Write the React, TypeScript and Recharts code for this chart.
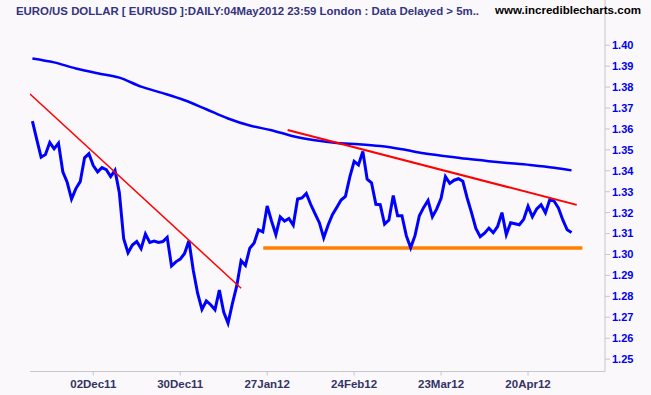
import { LineChart, Line, XAxis, YAxis } from 'recharts';

// daily closes, EUR/USD, 14 Nov 2011 .. 04 May 2012 (index = trading day)
const closes = [
  1.3637, 1.355, 1.3465, 1.3478, 1.3535, 1.3505, 1.3532, 1.3395, 1.3345, 1.3265,
  1.3315, 1.3348, 1.3462, 1.3482, 1.3425, 1.3395, 1.3415, 1.3405, 1.3372, 1.3402,
  1.3295, 1.3075, 1.3008, 1.3045, 1.3062, 1.3028, 1.3098, 1.3058, 1.3064, 1.3058,
  1.3062, 1.3082, 1.2945, 1.2965, 1.2978, 1.3005, 1.3066, 1.2925, 1.2815, 1.2738,
  1.2778, 1.276, 1.2736, 1.283, 1.2725, 1.2672, 1.2765, 1.285, 1.297, 1.2948,
  1.303, 1.3055, 1.3118, 1.3108, 1.3232, 1.316, 1.3095, 1.318, 1.316, 1.3172,
  1.314, 1.3265, 1.327, 1.3292, 1.324, 1.3195, 1.3152, 1.308, 1.314, 1.319,
  1.3225, 1.326, 1.3278, 1.337, 1.3445, 1.3428, 1.3492, 1.336, 1.3343, 1.324,
  1.3238, 1.3145, 1.3165, 1.3282, 1.3185, 1.3185, 1.309, 1.3032, 1.309, 1.3185,
  1.3225, 1.3258, 1.318, 1.3218, 1.3268, 1.3372, 1.334, 1.3355, 1.3362, 1.335,
  1.327, 1.32, 1.3125, 1.3085, 1.3102, 1.3126, 1.3104, 1.3134, 1.32, 1.3095,
  1.3152, 1.3147, 1.3142, 1.3168, 1.323, 1.318, 1.3218, 1.3238, 1.32, 1.3262,
  1.3255, 1.3222, 1.3165, 1.3118, 1.3105
];

// long moving average, read at every 5th day
const maDays = [0, 5, 10, 15, 20, 25, 30, 35, 40, 45, 50, 55, 60, 65, 70, 75, 80, 85, 90, 95, 100, 105, 110, 115, 120, 124];
const maValues = [
  1.3937, 1.3918, 1.3889, 1.3866, 1.3845, 1.3802, 1.3771, 1.3737, 1.3694, 1.365,
  1.3616, 1.3594, 1.3565, 1.3546, 1.3533, 1.3527, 1.3518, 1.3503, 1.3484, 1.347,
  1.3457, 1.3446, 1.3436, 1.3427, 1.3415, 1.3402
];

// hand drawn trend lines
const downTrendDays = [-0.55, 48];
const downTrendValues = [1.3767, 1.2839];
const upperTrendDays = [58.7, 125.2];
const upperTrendValues = [1.3595, 1.3237];
const supportDays = [53.1, 126.5];
const supportValues = [1.3031, 1.3031];

const tickDays = [14, 34, 54, 74, 94, 114];
const tickLabels = ['02Dec11', '30Dec11', '27Jan12', '24Feb12', '23Mar12', '20Apr12'];
const priceTicks = [1.25, 1.26, 1.27, 1.28, 1.29, 1.3, 1.31, 1.32, 1.33, 1.34, 1.35, 1.36, 1.37, 1.38, 1.39, 1.4];

const pairUp = (days: number[], values: number[]) => days.map((day, i) => ({ day, v: values[i] }));

const priceData = closes.map((v, day) => ({ day, v }));
const maData = pairUp(maDays, maValues);
const downTrend = pairUp(downTrendDays, downTrendValues);
const upperTrend = pairUp(upperTrendDays, upperTrendValues);
const support = pairUp(supportDays, supportValues);

const font = '"Liberation Sans", Arial, sans-serif';
const frame = '#c8c8c8';
const yDomain: [number, number] = [1.2441, 1.4216];

export default function App() {
  return (
    <div style={{ position: 'absolute', left: 0, top: 0, width: 651, height: 395, background: '#faf8fa' }}>
      <LineChart width={651} height={395} data={priceData} margin={{ top: 0, right: 0, bottom: 0, left: 30 }}>
        <XAxis
          dataKey="day"
          type="number"
          domain={[-0.55, 131.7]}
          allowDataOverflow
          ticks={tickDays}
          interval={0}
          tickFormatter={(d: number) => tickLabels[tickDays.indexOf(d)] ?? ''}
          height={23.5}
          tickSize={4}
          tickMargin={4}
          axisLine={{ stroke: frame }}
          tickLine={{ stroke: frame }}
          tick={{ fill: '#333366', fontSize: 11.5, fontWeight: 'bold', fontFamily: font }}
        />
        <YAxis
          orientation="right"
          domain={yDomain}
          allowDataOverflow
          ticks={priceTicks}
          interval={0}
          width={46}
          tickSize={5}
          tickMargin={2}
          tickFormatter={(v: number) => v.toFixed(2)}
          axisLine={{ stroke: frame }}
          tickLine={{ stroke: frame }}
          tick={{ fill: '#0000ee', fontSize: 11, fontWeight: 'bold', fontFamily: font }}
        />
        <YAxis
          yAxisId="frame"
          orientation="left"
          domain={yDomain}
          width={0}
          tick={false}
          tickLine={false}
          axisLine={{ stroke: frame }}
        />
        <Line data={maData} dataKey="v" type="monotone" stroke="#0000ff" strokeWidth={2.5} dot={false} isAnimationActive={false} />
        <Line data={support} dataKey="v" type="linear" stroke="#ff8000" strokeWidth={3.5} dot={false} isAnimationActive={false} />
        <Line data={priceData} dataKey="v" type="linear" stroke="#0000ff" strokeWidth={3} dot={false} isAnimationActive={false} />
        <Line data={downTrend} dataKey="v" type="linear" stroke="#ff0000" strokeWidth={1.5} dot={false} isAnimationActive={false} />
        <Line data={upperTrend} dataKey="v" type="linear" stroke="#ff0000" strokeWidth={2} dot={false} isAnimationActive={false} />
      </LineChart>
      <svg width={651} height={22} style={{ position: 'absolute', left: 0, top: 0, pointerEvents: 'none' }}>
        <text x={16} y={14.5} textLength={463} lengthAdjust="spacingAndGlyphs" fill="#333380" fontSize={11.5} fontWeight="bold" fontFamily={font}>
          EURO/US DOLLAR [ EURUSD ]:DAILY:04May2012 23:59 London : Data Delayed &gt; 5m..
        </text>
        <text x={495} y={14} textLength={146} lengthAdjust="spacingAndGlyphs" fill="#000000" fontSize={11} fontWeight="bold" fontFamily={font}>
          www.incrediblecharts.com
        </text>
      </svg>
    </div>
  );
}
